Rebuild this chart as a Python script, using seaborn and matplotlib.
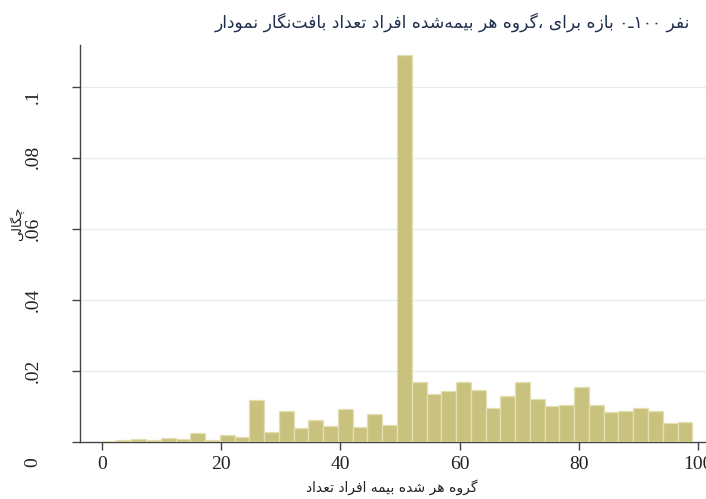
import numpy as np
import pandas as pd
import matplotlib
matplotlib.use("Agg")
import matplotlib.pyplot as plt
import matplotlib.transforms as mtransforms
import seaborn as sns

# ---------------- data ----------------
bin_start = 0.0
bin_end = 99.0
density = [0.0004, 0.0005, 0.00085, 0.00066, 0.0012, 0.00085, 0.0026, 0.00066,
           0.0021, 0.0014, 0.0119, 0.0028, 0.0087, 0.0039, 0.0061, 0.0046,
           0.0093, 0.0043, 0.0078, 0.0049, 0.1090, 0.0169, 0.0135, 0.0145,
           0.0168, 0.0146, 0.0097, 0.0130, 0.0168, 0.0121, 0.0100, 0.0105,
           0.0155, 0.0103, 0.0084, 0.0087, 0.0097, 0.0088, 0.0054, 0.0055]
x_ticks = [0, 20, 40, 60, 80, 100]
x_ticklabels = ["0", "20", "40", "60", "80", "100"]
y_ticks = [0, 0.02, 0.04, 0.06, 0.08, 0.1]
y_ticklabels = ["0", ".02", ".04", ".06", ".08", ".1"]
# words in the visual left-to-right order used by the reference
title_words = ["نمودار", "بافت\u200cنگار", "تعداد", "افراد", "بیمه\u200cشده", "هر",
               "گروه،", "برای", "بازه", "۰ـ۱۰۰", "نفر"]
xlabel_words = ["تعداد", "افراد", "بیمه", "شده", "هر", "گروه"]
ylabel_words = ["چگالی"]

# ---------------- simple Persian shaping (matplotlib draws glyphs left to right) ----------------
FORMS = {  # isolated, final, initial, medial
    '\u0627': ('\uFE8D', '\uFE8E', None, None),
    '\u0628': ('\uFE8F', '\uFE90', '\uFE91', '\uFE92'),
    '\u062A': ('\uFE95', '\uFE96', '\uFE97', '\uFE98'),
    '\u062F': ('\uFEA9', '\uFEAA', None, None),
    '\u0631': ('\uFEAD', '\uFEAE', None, None),
    '\u0632': ('\uFEAF', '\uFEB0', None, None),
    '\u0634': ('\uFEB5', '\uFEB6', '\uFEB7', '\uFEB8'),
    '\u0639': ('\uFEC9', '\uFECA', '\uFECB', '\uFECC'),
    '\u0641': ('\uFED1', '\uFED2', '\uFED3', '\uFED4'),
    '\u0644': ('\uFEDD', '\uFEDE', '\uFEDF', '\uFEE0'),
    '\u0645': ('\uFEE1', '\uFEE2', '\uFEE3', '\uFEE4'),
    '\u0646': ('\uFEE5', '\uFEE6', '\uFEE7', '\uFEE8'),
    '\u0647': ('\uFEE9', '\uFEEA', '\uFEEB', '\uFEEC'),
    '\u0648': ('\uFEED', '\uFEEE', None, None),
    '\u06CC': ('\uFBFC', '\uFBFD', '\uFBFE', '\uFBFF'),
    '\u06AF': ('\uFB92', '\uFB93', '\uFB94', '\uFB95'),
    '\u0686': ('\uFB7A', '\uFB7B', '\uFB7C', '\uFB7D'),
}
TATWEEL = '\u0640'
ZWNJ = '\u200c'


def is_letter(c):
    return c in FORMS or c == TATWEEL


def dual(c):
    return c == TATWEEL or (c in FORMS and FORMS[c][2] is not None)


def shape_run(run):
    out = []
    for i, c in enumerate(run):
        if c == ZWNJ:
            continue
        if c == TATWEEL:
            out.append(c)
            continue
        prev = run[i - 1] if i > 0 else ''
        nxt = run[i + 1] if i + 1 < len(run) else ''
        pc = prev != '' and dual(prev)
        nc = dual(c) and nxt != '' and is_letter(nxt)
        iso, fin, ini, med = FORMS[c]
        if pc and nc:
            out.append(med)
        elif pc:
            out.append(fin)
        elif nc:
            out.append(ini)
        else:
            out.append(iso)
    return ''.join(reversed(out))


def visual_word(word):
    runs, cur, cur_ar = [], '', None
    for c in word:
        ar = is_letter(c) or c == ZWNJ
        if cur and ar != cur_ar:
            runs.append((cur, cur_ar))
            cur = ''
        cur += c
        cur_ar = ar
    if cur:
        runs.append((cur, cur_ar))
    return ''.join(shape_run(r) if a else r for r, a in runs)


def visual(words):
    return ' '.join(visual_word(w) for w in words)


# ---------------- plot ----------------
sns.set_theme(style="white")
plt.rcParams['font.family'] = ['Liberation Serif', 'DejaVu Sans']

fig = plt.figure(figsize=(7.06, 4.99), dpi=100)
ax = fig.add_axes([80 / 706, 57 / 499, 1 - 80 / 706, (442 - 45) / 499])

n_bins = len(density)
width = (bin_end - bin_start) / n_bins
centers = bin_start + width * (np.arange(n_bins) + 0.5)
df = pd.DataFrame({"x": centers, "w": density})
sns.histplot(data=df, x="x", weights="w", bins=n_bins,
             binrange=(bin_start, bin_end), stat="count",
             color="#c9c27e", edgecolor="#e4dfb2", linewidth=0.9, alpha=1,
             ax=ax, zorder=3)

ax.set_xlim(-3.64, 101.3)
ax.set_ylim(0, 0.1118)
ax.set_xticks(x_ticks)
ax.set_xticklabels(x_ticklabels, fontsize=14, color="#222222")
ax.set_yticks(y_ticks)
ax.set_yticklabels([])
for yv in y_ticks[1:]:
    ax.axhline(yv, color="#e3ecef", linewidth=0.9, zorder=1)

# rotated y tick labels with the small offsets of the reference
y_off = [-20, 0, 0, 0, 1, -10]
for yv, lab, off in zip(y_ticks, y_ticklabels, y_off):
    tr = ax.get_yaxis_transform() + mtransforms.ScaledTranslation(0, off / 100, fig.dpi_scale_trans)
    ax.text(-47 / 626, yv, lab, transform=tr, rotation=90, ha="center",
            va="center", fontsize=14, color="#222222")

ax.tick_params(axis="both", which="both", direction="out", length=6, width=1,
               color="#444444", bottom=True, left=True, pad=4)
ax.set_xlabel("")
ax.set_ylabel("")
for s in ["top", "right"]:
    ax.spines[s].set_visible(False)
for s in ["left", "bottom"]:
    ax.spines[s].set_color("#444444")
    ax.spines[s].set_linewidth(1.0)

fa = ['DejaVu Sans']
t_title = fig.text(452 / 706, 1 - 22 / 499, visual(title_words), ha="center",
                   va="center", fontsize=16, color="#1e2e4c", family=fa)
t_xl = fig.text(392 / 706, 1 - 487 / 499, visual(xlabel_words), ha="center",
                va="center", fontsize=12, color="#222222", family=fa)
t_yl = fig.text(17 / 706, 1 - 224 / 499, visual(ylabel_words), ha="center",
                va="center", rotation=90, fontsize=12, color="#222222", family=fa)

# fit the Persian texts to the extents seen in the reference
fig.canvas.draw()
rend = fig.canvas.get_renderer()
for t, target, use_h in [(t_title, 475, False), (t_xl, 170, False), (t_yl, 34, True)]:
    bb = t.get_window_extent(rend)
    cur = bb.height if use_h else bb.width
    t.set_fontsize(min(t.get_fontsize() * target / cur, 18))

fig.savefig("out.png", dpi=100)
